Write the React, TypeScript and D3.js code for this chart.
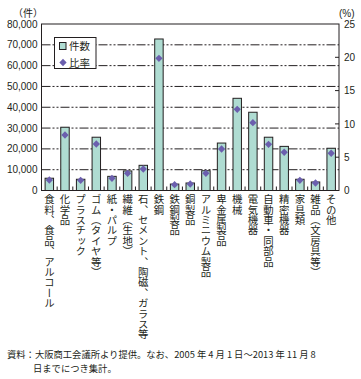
import React from 'react';
import * as d3 from 'd3';

const categories = [
  '食料、食品、アルコール', '化学品', 'プラスチック', 'ゴム（タイヤ等）', '紙・パルプ',
  '繊維（生地）', '石、セメント、陶磁、ガラス等', '鉄鋼', '鉄鋼製品', '銅製品',
  'アルミニウム製品', '卑金属製品', '機械', '電気機器', '自動車・同部品',
  '精密機器', '家具類', '雑品（文房具等）', 'その他',
];
const counts = [5900, 30400, 5400, 25600, 6800, 9400, 12100, 72800, 3100, 3600, 9500, 22800, 44300, 37600, 25600, 21200, 5400, 4100, 20300];
const ratios = [1.58, 8.33, 1.53, 6.98, 1.83, 2.58, 3.23, 19.85, 0.87, 0.98, 2.58, 6.23, 12.19, 10.18, 6.94, 5.74, 1.53, 1.13, 5.59];
const leftTicks = [0, 10000, 20000, 30000, 40000, 50000, 60000, 70000, 80000];
const rightTicks = [0, 5, 10, 15, 20, 25];

const W = 361;
const H = 379;
const left = 41.5;
const right = 339;
const top = 24;
const bottom = 190.5;
const ink = '#231f20';
const numFont = '"Liberation Sans", Arial, sans-serif';
const jpFont = '"Noto Sans CJK JP", sans-serif';

export default function App() {
  const x = d3.scaleBand<string>().domain(categories).range([left, right]).paddingInner(0.46).paddingOuter(0.23);
  const y = d3.scaleLinear().domain([0, 80000]).range([bottom, top]);
  const y2 = d3.scaleLinear().domain([0, 25]).range([bottom, top]);
  const fmt = d3.format(',');
  const step = x.step();
  const diamond = d3.symbol().type(d3.symbolDiamond2).size(34)();

  return (
    <svg width={W} height={H} style={{ position: 'absolute', left: 0, top: 0, background: '#fff' }}>
      {/* grid */}
      {leftTicks.slice(1, -1).map((t) => (
        <line key={t} x1={left} x2={right} y1={y(t)} y2={y(t)} stroke={ink} strokeWidth={1} strokeDasharray="9,2,2,2,2,2" />
      ))}
      {/* legend */}
      <rect x={54.5} y={37.5} width={41.5} height={31} fill="#fff" stroke={ink} strokeWidth={1} />
      <rect x={59.5} y={42.5} width={6.5} height={7} fill="#afdcd2" stroke={ink} strokeWidth={1} />
      <text x={69} y={50} fontSize={10.5} fontFamily={jpFont} fill={ink}>件数</text>
      <path d={diamond!} transform="translate(63,62.5)" fill="#6b5fae" />
      <text x={69} y={66.5} fontSize={10.5} fontFamily={jpFont} fill={ink}>比率</text>
      {/* bars */}
      {categories.map((c, i) => (
        <rect key={c} x={x(c)!} y={y(counts[i])} width={x.bandwidth()} height={bottom - y(counts[i])} fill="#afdcd2" stroke={ink} strokeWidth={1} />
      ))}
      {categories.map((c, i) => (
        <path key={c} d={diamond!} transform={`translate(${x(c)! + x.bandwidth() / 2},${y2(ratios[i])})`} fill="#6b5fae" />
      ))}
      {/* frame */}
      <rect x={left} y={top} width={right - left} height={bottom - top} fill="none" stroke={ink} strokeWidth={1} />
      {categories.slice(1).map((c) => (
        <line key={c} x1={x(c)! - (step - x.bandwidth()) / 2} x2={x(c)! - (step - x.bandwidth()) / 2} y1={bottom} y2={bottom - 4} stroke={ink} />
      ))}
      {rightTicks.slice(1, -1).map((t) => (
        <line key={t} x1={right - 4} x2={right} y1={y2(t)} y2={y2(t)} stroke={ink} />
      ))}
      {/* axis labels */}
      {leftTicks.map((t) => (
        <text key={t} x={37.5} y={y(t) + 3.6} textAnchor="end" fontSize={10} fontFamily={numFont} fill={ink}>{fmt(t)}</text>
      ))}
      {rightTicks.map((t) => (
        <text key={t} x={344} y={y2(t) + 3.6} fontSize={10} fontFamily={numFont} fill={ink}>{t}</text>
      ))}
      <text x={13} y={17} fontSize={10} fontFamily={jpFont} fill={ink}>（件）</text>
      <text x={339} y={17} fontSize={10} fontFamily={numFont} fill={ink}>(%)</text>
      {categories.map((c) => (
        <text key={c} x={x(c)! + x.bandwidth() / 2} y={194} fontSize={10.4} fontFamily={jpFont} fill={ink} style={{ writingMode: 'vertical-rl' }}>{c}</text>
      ))}
      {/* note */}
      <text x={7} y={357.5} fontSize={9.3} fontFamily={jpFont} fill={ink}>資料：大阪商工会議所より提供。なお、2005 年 4 月 1 日～2013 年 11 月 8</text>
      <text x={33} y={371.5} fontSize={9.3} fontFamily={jpFont} fill={ink}>日までにつき集計。</text>
    </svg>
  );
}
